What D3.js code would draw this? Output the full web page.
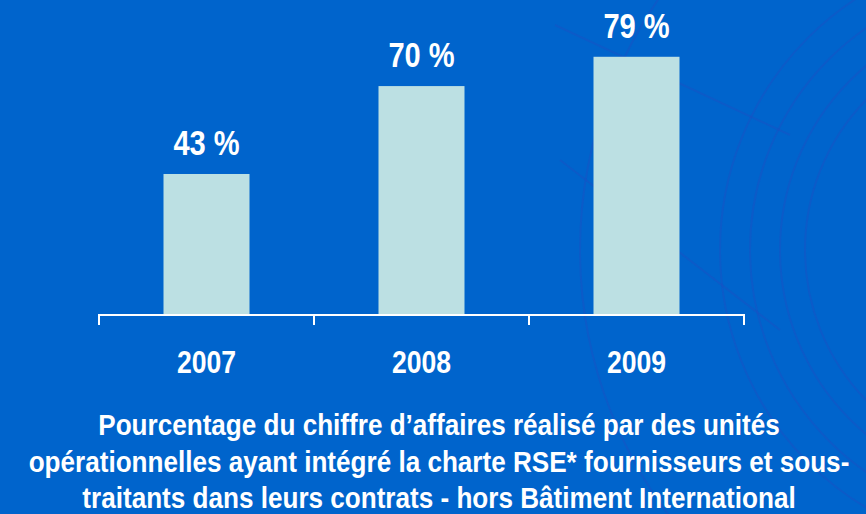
<!DOCTYPE html>
<html>
<head>
<meta charset="utf-8">
<script src="https://cdn.jsdelivr.net/npm/d3@7/dist/d3.min.js"></script>
<style>
  html, body { margin: 0; padding: 0; background: #0064cc; }
  svg { display: block; }
  .lbl { font-family: "Liberation Sans Narrow", "Arial Narrow", "Liberation Sans", Arial, sans-serif; font-weight: bold; fill: #fff; }
</style>
</head>
<body>
<div id="chart"></div>
<script>
// Data
const years = ["2007", "2008", "2009"];
const shares = [43, 70, 79];
const titleLines = [
  "Pourcentage du chiffre d\u2019affaires réalisé par des unités",
  "opérationnelles ayant intégré la charte RSE* fournisseurs et sous-",
  "traitants dans leurs contrats - hors Bâtiment International"
];

const svgWidth = 866;
const svgHeight = 514;
// no narrow font installed, so squeeze the bold sans horizontally
const squeeze = 0.83;

const svg = d3.select("#chart")
  .append("svg")
  .attr("width", svgWidth)
  .attr("height", svgHeight);

svg.append("rect")
  .attr("width", svgWidth)
  .attr("height", svgHeight)
  .attr("fill", "#0064cc");

// faint decorative arcs on the right (background artwork)
const deco = svg.append("g")
  .attr("fill", "none")
  .attr("stroke", "#1a4fc4")
  .attr("stroke-opacity", 0.45)
  .attr("stroke-width", 2);
[440, 300, 270, 240, 215].forEach(r => {
  deco.append("circle").attr("cx", 1020).attr("cy", 250).attr("r", r);
});
deco.append("line").attr("x1", 555).attr("y1", 25).attr("x2", 790).attr("y2", 135);
deco.append("line").attr("x1", 560).attr("y1", 160).attr("x2", 780).attr("y2", 330);

// Scales
const x = d3.scaleBand()
  .domain(years)
  .range([99, 744])
  .paddingInner(0.6)
  .paddingOuter(0.3);

const y = d3.scaleLinear()
  .domain([0, 100])
  .range([314, -11.6]);

// Bars
svg.selectAll("rect.bar")
  .data(years)
  .enter()
  .append("rect")
  .attr("class", "bar")
  .attr("x", d => x(d))
  .attr("y", (d, i) => y(shares[i]))
  .attr("width", x.bandwidth())
  .attr("height", (d, i) => y(0) - y(shares[i]))
  .attr("fill", "#bce0e3");

// Value labels
svg.selectAll("text.val")
  .data(years)
  .enter()
  .append("text")
  .attr("class", "lbl")
  .attr("transform", (d, i) => `translate(${x(d) + x.bandwidth() / 2}, ${y(shares[i]) - 19}) scale(${squeeze}, 1)`)
  .attr("text-anchor", "middle")
  .attr("font-size", 35)
  .text((d, i) => `${shares[i]} %`);

// Axis: baseline with ticks at band edges
const axisG = svg.append("g")
  .attr("stroke", "#fff")
  .attr("stroke-width", 2);
axisG.append("line")
  .attr("x1", 99).attr("x2", 744)
  .attr("y1", 315).attr("y2", 315);
years.forEach(d => {
  const ex = x(d) + x.bandwidth() / 2 - x.step() / 2;
  axisG.append("line").attr("x1", ex).attr("x2", ex).attr("y1", 314).attr("y2", 325);
});
axisG.append("line").attr("x1", 744).attr("x2", 744).attr("y1", 314).attr("y2", 325);

// Category labels
svg.selectAll("text.cat")
  .data(years)
  .enter()
  .append("text")
  .attr("class", "lbl")
  .attr("transform", d => `translate(${x(d) + x.bandwidth() / 2}, 373) scale(${squeeze}, 1)`)
  .attr("text-anchor", "middle")
  .attr("font-size", 32)
  .text(d => d);

// Caption
svg.selectAll("text.title")
  .data(titleLines)
  .enter()
  .append("text")
  .attr("class", "lbl")
  .attr("transform", (d, i) => `translate(439, ${435 + i * 36.5}) scale(0.9, 1)`)
  .attr("text-anchor", "middle")
  .attr("font-size", 29)
  .text(d => d);
</script>
</body>
</html>
